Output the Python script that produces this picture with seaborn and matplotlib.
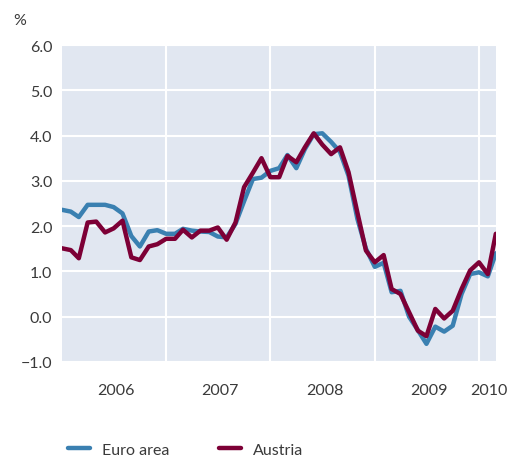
import pandas as pd
import matplotlib.pyplot as plt
import seaborn as sns

## monthly HICP inflation, Jan 2006 - Mar 2010
months = pd.date_range('2006-01-01', periods=51, freq='MS')

euro_area = [2.36, 2.32, 2.2, 2.47, 2.47, 2.47, 2.42, 2.28, 1.78, 1.55, 1.88, 1.91,
             1.83, 1.83, 1.94, 1.9, 1.88, 1.87, 1.77, 1.75, 2.05, 2.55, 3.04, 3.07,
             3.22, 3.28, 3.57, 3.28, 3.7, 4.03, 4.05, 3.86, 3.64, 3.11, 2.16, 1.5,
             1.1, 1.19, 0.54, 0.57, 0.0, -0.3, -0.6, -0.22, -0.33, -0.2, 0.5, 0.94,
             0.98, 0.89, 1.4]

austria = [1.51, 1.47, 1.29, 2.08, 2.1, 1.86, 1.95, 2.12, 1.31, 1.25, 1.55, 1.6,
           1.72, 1.72, 1.92, 1.75, 1.9, 1.9, 1.97, 1.7, 2.08, 2.86, 3.18, 3.5,
           3.08, 3.08, 3.55, 3.41, 3.74, 4.05, 3.8, 3.59, 3.74, 3.19, 2.3, 1.46,
           1.2, 1.36, 0.61, 0.5, 0.1, -0.31, -0.43, 0.17, -0.04, 0.13, 0.61, 1.02,
           1.2, 0.94, 1.83]

series_names = ['Euro area', 'Austria']
colors = ['#3a80b1', '#7d0036']
year_labels = ['2006', '2007', '2008', '2009', '2010']
label_dates = pd.to_datetime(['2006-07-10', '2007-07-10', '2008-07-10', '2009-07-10', '2010-02-05'])
year_starts = pd.to_datetime(['2007-01-01', '2008-01-01', '2009-01-01', '2010-01-01'])

df = pd.concat([
    pd.DataFrame({'month': months, 'value': euro_area, 'series': 'Euro area'}),
    pd.DataFrame({'month': months, 'value': austria, 'series': 'Austria'}),
])

sns.set_style('white')
plt.rcParams['font.family'] = ['Lato', 'DejaVu Sans']

fig = plt.figure(figsize=(5.08, 4.6), dpi=100)
ax = fig.add_axes([0.122, 0.211, 0.854, 0.689])
ax.set_facecolor('#e1e7f1')

sns.lineplot(data=df, x='month', y='value', hue='series', hue_order=series_names,
             palette=colors, linewidth=3.2, ax=ax)

## axes limits and ticks
ax.set_xlim(months[0], months[-1])
ax.set_ylim(-1, 6)
ax.set_yticks(range(-1, 7))
ax.set_yticklabels([f'{v:.1f}'.replace('-', '\u2212') for v in range(-1, 7)])
ax.set_xticks(year_starts)
ax.set_xticklabels([])
ax.set_xticks(label_dates, minor=True)
ax.set_xticklabels(year_labels, minor=True)
ax.tick_params(axis='both', which='both', length=0, labelsize=11.5, labelcolor='#3a3a3a')
ax.tick_params(axis='x', which='minor', pad=15)
ax.tick_params(axis='y', pad=7)

ax.grid(True, which='major', color='white', linewidth=1.5)
ax.set_axisbelow(True)
for s in ax.spines.values():
    s.set_visible(False)
ax.set_xlabel('')
ax.set_ylabel('')

fig.text(0.026, 0.955, '%', fontsize=11.5, color='#3a3a3a', va='center')

## legend below the chart
handles, labels = ax.get_legend_handles_labels()
ax.legend(handles, labels, loc='center left', bbox_to_anchor=(0.105, 0.02),
          bbox_transform=fig.transFigure, ncol=2, frameon=False, fontsize=11.5,
          handlelength=1.4, handletextpad=0.75, columnspacing=3.1, labelcolor='#3a3a3a')

fig.savefig('out.png', dpi=100)
